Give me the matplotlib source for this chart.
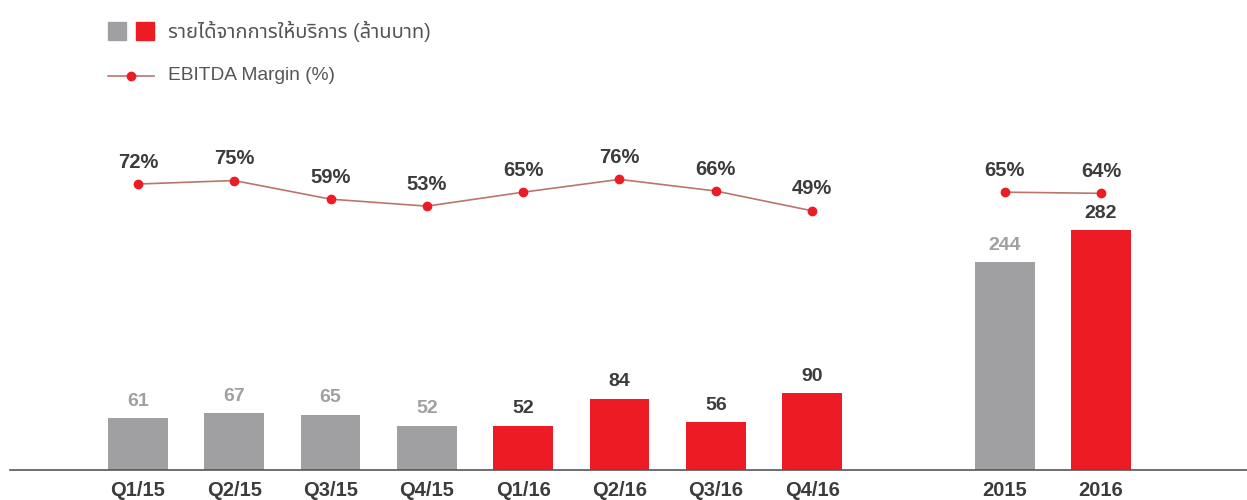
import matplotlib
matplotlib.use("Agg")
import matplotlib.pyplot as plt
from matplotlib.lines import Line2D
from matplotlib.patches import Rectangle

# data
quarters = ['Q1/15', 'Q2/15', 'Q3/15', 'Q4/15', 'Q1/16', 'Q2/16', 'Q3/16', 'Q4/16']
quarter_revenue = [61, 67, 65, 52, 52, 84, 56, 90]
quarter_margin = [72, 75, 59, 53, 65, 76, 66, 49]
years = ['2015', '2016']
year_revenue = [244, 282]
year_margin = [65, 64]

GREY = '#a0a0a2'
RED = '#ed1c24'
DARK = '#3c3c3c'
LINE = '#b8766c'

plt.rcParams['font.family'] = ['Liberation Sans', 'Noto Sans Thai', 'Loma', 'Garuda',
                               'Tlwg Typo', 'DejaVu Sans']

fig = plt.figure(figsize=(12.47, 5.0), dpi=100)
ax = fig.add_axes([0.008, 0.06, 0.992, 0.74])

q_pos = list(range(len(quarters)))
y_pos = [9, 10]
labels = quarters + years
positions = q_pos + y_pos
revenue = quarter_revenue + year_revenue
colors = [GREY if l.endswith('15') else RED for l in labels]

ax.bar(positions, revenue, width=0.62, color=colors, zorder=2)
for x, v, c in zip(positions, revenue, colors):
    ax.annotate(str(v), (x, v), xytext=(0, 6), textcoords='offset points',
                ha='center', va='bottom', fontsize=14, fontweight='bold',
                color=GREY if c == GREY else DARK)

ax.set_xlim(-1.329, 11.516)
ax.set_ylim(0, 435)
ax.set_xticks(positions)
ax.set_xticklabels(labels, fontsize=14.5, fontweight='bold', color=DARK)
ax.tick_params(axis='x', length=0, pad=8)
ax.set_yticks([])
for s in ['top', 'right', 'left']:
    ax.spines[s].set_visible(False)
ax.spines['bottom'].set_color('#555555')
ax.spines['bottom'].set_linewidth(1.2)

# margin line on a second scale
ax2 = ax.twinx()
ax2.set_ylim(-173.7, 144.2)
ax2.axis('off')
ax2.plot(q_pos, quarter_margin, color=LINE, lw=1.2, marker='o', markersize=6,
         markerfacecolor=RED, markeredgecolor=RED, zorder=3)
ax2.plot(y_pos, year_margin, color=LINE, lw=1.2, marker='o', markersize=6,
         markerfacecolor=RED, markeredgecolor=RED, zorder=3)
for x, v in zip(positions, quarter_margin + year_margin):
    ax2.annotate('%d%%' % v, (x, v), xytext=(0, 9), textcoords='offset points',
                 ha='center', va='bottom', fontsize=14.5, fontweight='bold', color=DARK)

# legend
W, H = 1247.0, 500.0
fig.patches.append(Rectangle((108 / W, 1 - 40 / H), 18 / W, 18 / H,
                             transform=fig.transFigure, color=GREY))
fig.patches.append(Rectangle((136 / W, 1 - 40 / H), 18 / W, 18 / H,
                             transform=fig.transFigure, color=RED))
fig.text(168 / W, 1 - 31 / H, 'รายได้จากการให้บริการ (ล้านบาท)', fontsize=14.5,
         color='#555555', va='center', ha='left')
fig.lines.append(Line2D([108 / W, 154 / W], [1 - 76 / H, 1 - 76 / H],
                        transform=fig.transFigure, color=LINE, lw=1.2))
fig.lines.append(Line2D([131 / W], [1 - 76 / H], transform=fig.transFigure,
                        marker='o', markersize=6, color=RED))
fig.text(168 / W, 1 - 76 / H, 'EBITDA Margin (%)', fontsize=13.8,
         color='#555555', va='center', ha='left')

fig.savefig('out.png', dpi=100)
